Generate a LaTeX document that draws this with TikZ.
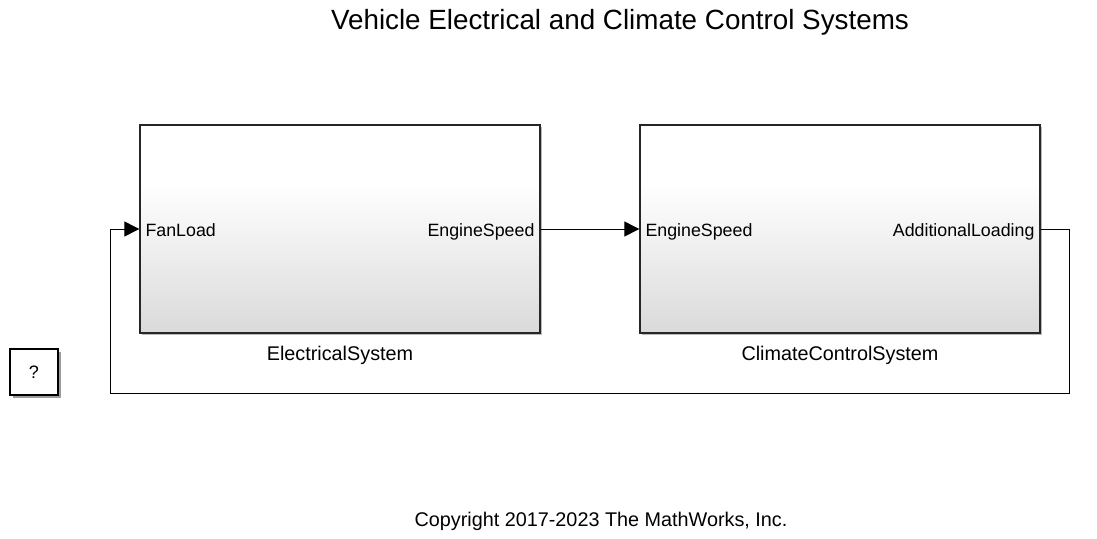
\documentclass[tikz,border=0pt]{standalone}
\usepackage{fontspec}
\setmainfont{Liberation Sans}
\usetikzlibrary{arrows.meta,shadows}
\definecolor{blockbot}{RGB}{218,218,218}
\pgfdeclareverticalshading{blockshade}{100bp}{color(0bp)=(blockbot); color(25bp)=(blockbot); color(61bp)=(white); color(100bp)=(white)}
\begin{document}
\begin{tikzpicture}[x=1pt,y=-1pt,
    block/.style={draw=black!85,line width=1.3pt,shading=blockshade,minimum width=400pt,minimum height=208pt,inner sep=0pt,
      drop shadow={shadow xshift=2pt,shadow yshift=-2pt,fill=black!45,opacity=0.6}},
    port/.style={inner sep=0pt,font=\fontsize{17.8}{20}\selectfont},
    blocklbl/.style={inner sep=0pt,anchor=base,font=\fontsize{19.8}{22}\selectfont},
    sig/.style={line width=1pt,-{Triangle[length=15pt,width=15pt]}},
    wire/.style={line width=1pt}]
  \useasboundingbox (0,0) rectangle (1097,538);
  % title and copyright
  \node[inner sep=0pt,anchor=base,font=\fontsize{27.8}{30}\selectfont] (title) at (620,29) {Vehicle Electrical and Climate Control Systems};
  \node[inner sep=0pt,anchor=base,font=\fontsize{19.8}{22}\selectfont] (copy) at (601,526) {Copyright 2017-2023 The MathWorks, Inc.};
  % help block
  \node[draw=black,line width=1.3pt,fill=white,minimum width=48pt,minimum height=46pt,inner sep=0pt,
    drop shadow={shadow xshift=3pt,shadow yshift=-3pt,fill=black!55,opacity=0.7},
    font=\fontsize{18}{20}\selectfont] (help) at (34,372) {?};
  % subsystems
  \node[block] (elec) at (340,229) {};
  \node[block] (clim) at (840,229) {};
  \node[blocklbl] (eleclbl) at (340,360) {ElectricalSystem};
  \node[blocklbl] (climlbl) at (840,360) {ClimateControlSystem};
  \node[port,anchor=base west] (fanload) at ([xshift=6pt,yshift=-7pt]elec.west) {FanLoad};
  \node[port,anchor=base east] (engout) at ([xshift=-6pt,yshift=-7pt]elec.east) {EngineSpeed};
  \node[port,anchor=base west] (engin) at ([xshift=6pt,yshift=-7pt]clim.west) {EngineSpeed};
  \node[port,anchor=base east] (addload) at ([xshift=-6pt,yshift=-7pt]clim.east) {AdditionalLoading};
  % signals
  \draw[sig] (elec.east) -- (clim.west);
  \draw[wire] (clim.east) -- (1069,229) -- (1069,393) -- (110,393) -- (110,229);
  \draw[sig] (110,229) -- (elec.west);
\end{tikzpicture}
\end{document}
